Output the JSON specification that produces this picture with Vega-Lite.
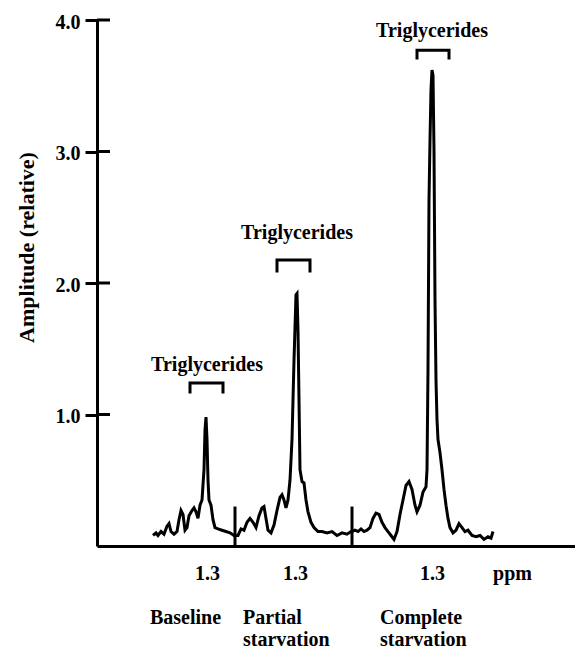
{
  "$schema": "https://vega.github.io/schema/vega-lite/v6.json",
  "width": 478,
  "height": 526,
  "autosize": {"type": "none"},
  "padding": {"left": 97, "top": 20, "right": 0, "bottom": 107},
  "background": "white",
  "config": {"view": {"stroke": null}, "font": "Liberation Serif"},
  "datasets": {
    "spectrum": [
      {"pos": 56, "val": 0.08}, {"pos": 59, "val": 0.10}, {"pos": 61, "val": 0.08}, {"pos": 64, "val": 0.11},
      {"pos": 67, "val": 0.09}, {"pos": 70, "val": 0.15}, {"pos": 72, "val": 0.17}, {"pos": 74, "val": 0.11},
      {"pos": 77, "val": 0.09}, {"pos": 80, "val": 0.11}, {"pos": 82, "val": 0.20}, {"pos": 84, "val": 0.27},
      {"pos": 86, "val": 0.24}, {"pos": 88, "val": 0.12}, {"pos": 90, "val": 0.14}, {"pos": 92, "val": 0.23},
      {"pos": 95, "val": 0.27}, {"pos": 97, "val": 0.29}, {"pos": 99, "val": 0.26}, {"pos": 101, "val": 0.21},
      {"pos": 103, "val": 0.31}, {"pos": 105, "val": 0.35}, {"pos": 107, "val": 0.58}, {"pos": 108, "val": 0.88},
      {"pos": 109, "val": 0.98}, {"pos": 110, "val": 0.81}, {"pos": 111, "val": 0.50}, {"pos": 112, "val": 0.35},
      {"pos": 114, "val": 0.31}, {"pos": 116, "val": 0.20}, {"pos": 118, "val": 0.14}, {"pos": 121, "val": 0.13},
      {"pos": 125, "val": 0.12}, {"pos": 129, "val": 0.11}, {"pos": 133, "val": 0.10}, {"pos": 137, "val": 0.08},
      {"pos": 141, "val": 0.08}, {"pos": 144, "val": 0.13}, {"pos": 147, "val": 0.12}, {"pos": 150, "val": 0.18},
      {"pos": 153, "val": 0.21}, {"pos": 156, "val": 0.18}, {"pos": 159, "val": 0.14}, {"pos": 162, "val": 0.23},
      {"pos": 165, "val": 0.29}, {"pos": 167, "val": 0.30}, {"pos": 169, "val": 0.21}, {"pos": 171, "val": 0.12},
      {"pos": 174, "val": 0.10}, {"pos": 177, "val": 0.16}, {"pos": 180, "val": 0.27}, {"pos": 183, "val": 0.37},
      {"pos": 185, "val": 0.39}, {"pos": 187, "val": 0.35}, {"pos": 189, "val": 0.29}, {"pos": 191, "val": 0.35},
      {"pos": 193, "val": 0.50}, {"pos": 195, "val": 0.81}, {"pos": 197, "val": 1.41}, {"pos": 199, "val": 1.91},
      {"pos": 200, "val": 1.92}, {"pos": 201, "val": 1.64}, {"pos": 202, "val": 1.11}, {"pos": 203, "val": 0.58},
      {"pos": 205, "val": 0.49}, {"pos": 207, "val": 0.48}, {"pos": 209, "val": 0.35}, {"pos": 211, "val": 0.26},
      {"pos": 214, "val": 0.18}, {"pos": 217, "val": 0.14}, {"pos": 221, "val": 0.11}, {"pos": 225, "val": 0.11},
      {"pos": 230, "val": 0.10}, {"pos": 235, "val": 0.11}, {"pos": 240, "val": 0.08}, {"pos": 245, "val": 0.10},
      {"pos": 250, "val": 0.09}, {"pos": 254, "val": 0.11}, {"pos": 258, "val": 0.12}, {"pos": 261, "val": 0.11},
      {"pos": 264, "val": 0.13}, {"pos": 267, "val": 0.11}, {"pos": 270, "val": 0.12}, {"pos": 273, "val": 0.14},
      {"pos": 276, "val": 0.21}, {"pos": 279, "val": 0.25}, {"pos": 282, "val": 0.24}, {"pos": 285, "val": 0.18},
      {"pos": 288, "val": 0.14}, {"pos": 291, "val": 0.11}, {"pos": 294, "val": 0.08}, {"pos": 297, "val": 0.05},
      {"pos": 300, "val": 0.11}, {"pos": 303, "val": 0.24}, {"pos": 306, "val": 0.35}, {"pos": 309, "val": 0.46},
      {"pos": 312, "val": 0.49}, {"pos": 315, "val": 0.43}, {"pos": 318, "val": 0.31}, {"pos": 320, "val": 0.26},
      {"pos": 323, "val": 0.31}, {"pos": 326, "val": 0.41}, {"pos": 329, "val": 0.45}, {"pos": 330, "val": 0.58},
      {"pos": 331, "val": 1.34}, {"pos": 332, "val": 2.63}, {"pos": 333, "val": 3.09}, {"pos": 334, "val": 3.47},
      {"pos": 335, "val": 3.62}, {"pos": 336, "val": 3.58}, {"pos": 337, "val": 3.01}, {"pos": 338, "val": 1.87},
      {"pos": 339, "val": 1.26}, {"pos": 340, "val": 0.96}, {"pos": 341, "val": 0.81}, {"pos": 343, "val": 0.71},
      {"pos": 345, "val": 0.58}, {"pos": 347, "val": 0.43}, {"pos": 349, "val": 0.31}, {"pos": 351, "val": 0.21},
      {"pos": 353, "val": 0.14}, {"pos": 356, "val": 0.10}, {"pos": 359, "val": 0.12}, {"pos": 362, "val": 0.17},
      {"pos": 365, "val": 0.14}, {"pos": 368, "val": 0.11}, {"pos": 371, "val": 0.12}, {"pos": 375, "val": 0.08},
      {"pos": 379, "val": 0.07}, {"pos": 383, "val": 0.08}, {"pos": 387, "val": 0.05}, {"pos": 391, "val": 0.07},
      {"pos": 394, "val": 0.06}, {"pos": 396, "val": 0.11}
    ],
    "separators": [
      {"pos": 138, "val": 0, "val2": 0.3},
      {"pos": 255, "val": 0, "val2": 0.3}
    ],
    "innerTicks": [
      {"pos": 0, "pos2": 13, "val": 1}, {"pos": 0, "pos2": 13, "val": 2},
      {"pos": 0, "pos2": 13, "val": 3}, {"pos": 0, "pos2": 13, "val": 4}
    ],
    "brackets": [
      {"b": "baseline", "o": 1, "pos": 93, "val": 1.16}, {"b": "baseline", "o": 2, "pos": 93, "val": 1.24},
      {"b": "baseline", "o": 3, "pos": 126, "val": 1.24}, {"b": "baseline", "o": 4, "pos": 126, "val": 1.16},
      {"b": "partial", "o": 1, "pos": 180, "val": 2.08}, {"b": "partial", "o": 2, "pos": 180, "val": 2.175},
      {"b": "partial", "o": 3, "pos": 213, "val": 2.175}, {"b": "partial", "o": 4, "pos": 213, "val": 2.08},
      {"b": "complete", "o": 1, "pos": 320, "val": 3.70}, {"b": "complete", "o": 2, "pos": 320, "val": 3.77},
      {"b": "complete", "o": 3, "pos": 352, "val": 3.77}, {"b": "complete", "o": 4, "pos": 352, "val": 3.70}
    ],
    "peakLabels": [
      {"pos": 110, "val": 1.33, "label": "Triglycerides"},
      {"pos": 200, "val": 2.335, "label": "Triglycerides"},
      {"pos": 335, "val": 3.87, "label": "Triglycerides"}
    ],
    "conditions": [
      {"pos": 53, "val": -0.47, "label": "Baseline"},
      {"pos": 146, "val": -0.47, "label": "Partial\nstarvation"},
      {"pos": 283, "val": -0.47, "label": "Complete\nstarvation"}
    ]
  },
  "layer": [
    {
      "data": {"name": "spectrum"},
      "mark": {"type": "line", "color": "black", "strokeWidth": 3, "strokeJoin": "miter", "interpolate": "linear"},
      "encoding": {
        "x": {
          "field": "pos", "type": "quantitative",
          "scale": {"domain": [0, 478], "nice": false, "zero": false},
          "axis": {
            "title": null, "grid": false, "values": [110, 198, 335, 415],
            "labelExpr": "datum.value == 415 ? 'ppm' : '1.3'",
            "ticks": false, "tickSize": 0, "domainWidth": 3, "domainColor": "black",
            "labelFont": "Liberation Serif", "labelFontWeight": "bold", "labelFontSize": 20,
            "labelColor": "black", "labelPadding": 17, "labelFlush": false, "labelOverlap": false
          }
        },
        "y": {
          "field": "val", "type": "quantitative",
          "scale": {"domain": [0, 4], "nice": false},
          "axis": {
            "title": "Amplitude (relative)", "grid": false, "values": [1, 2, 3, 4], "format": ".1f",
            "tickSize": 12, "tickWidth": 3, "tickColor": "black", "domainWidth": 3, "domainColor": "black",
            "labelFont": "Liberation Serif", "labelFontWeight": "bold", "labelFontSize": 20,
            "labelColor": "black", "labelPadding": 5, "labelOffset": 2, "labelFlush": false,
            "titleFont": "Liberation Serif", "titleFontWeight": "bold", "titleFontSize": 22,
            "titleColor": "black", "titleX": -71, "titleY": 227, "titleBaseline": "middle",
            "titleAlign": "center", "titleAngle": -90
          }
        },
        "order": {"field": "pos", "type": "quantitative"}
      }
    },
    {
      "data": {"name": "separators"},
      "mark": {"type": "rule", "color": "black", "strokeWidth": 3},
      "encoding": {
        "x": {"field": "pos", "type": "quantitative"},
        "y": {"field": "val", "type": "quantitative"},
        "y2": {"field": "val2"}
      }
    },
    {
      "data": {"name": "innerTicks"},
      "mark": {"type": "rule", "color": "black", "strokeWidth": 3},
      "encoding": {
        "x": {"field": "pos", "type": "quantitative"},
        "x2": {"field": "pos2"},
        "y": {"field": "val", "type": "quantitative"}
      }
    },
    {
      "data": {"name": "brackets"},
      "mark": {"type": "line", "color": "black", "strokeWidth": 3, "strokeJoin": "miter"},
      "encoding": {
        "x": {"field": "pos", "type": "quantitative"},
        "y": {"field": "val", "type": "quantitative"},
        "detail": {"field": "b"},
        "order": {"field": "o", "type": "quantitative"}
      }
    },
    {
      "data": {"name": "peakLabels"},
      "mark": {"type": "text", "font": "Liberation Serif", "fontWeight": "bold", "fontSize": 20, "color": "black", "align": "center", "baseline": "alphabetic"},
      "encoding": {
        "x": {"field": "pos", "type": "quantitative"},
        "y": {"field": "val", "type": "quantitative"},
        "text": {"field": "label"}
      }
    },
    {
      "data": {"name": "conditions"},
      "mark": {"type": "text", "font": "Liberation Serif", "fontWeight": "bold", "fontSize": 20, "color": "black", "align": "left", "baseline": "top", "lineBreak": "\n", "lineHeight": 22},
      "encoding": {
        "x": {"field": "pos", "type": "quantitative"},
        "y": {"field": "val", "type": "quantitative"},
        "text": {"field": "label"}
      }
    }
  ]
}
